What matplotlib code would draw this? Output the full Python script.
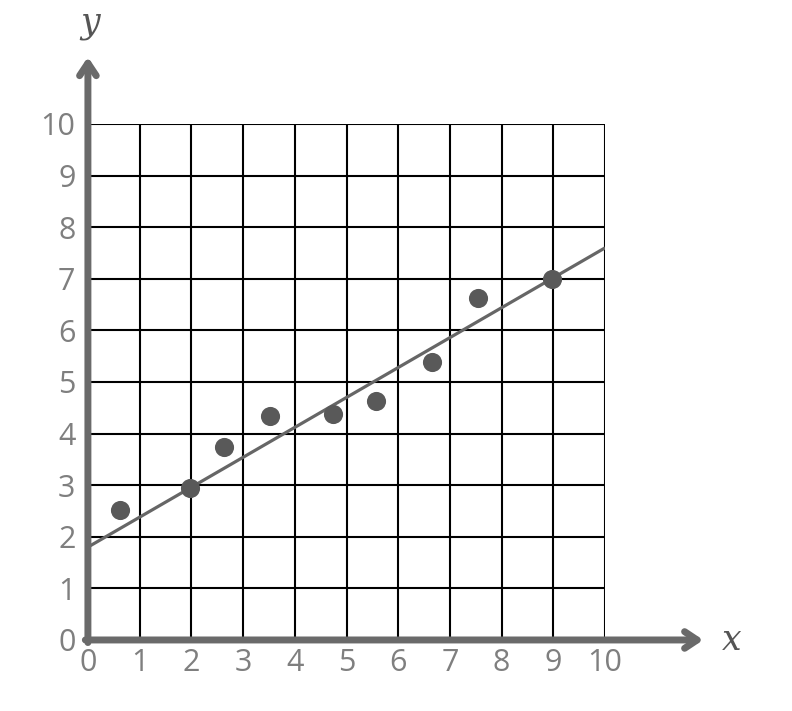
import matplotlib.pyplot as plt

# scatter data
x_vals = [0.62, 1.97, 2.63, 3.53, 4.73, 5.58, 6.66, 7.55, 8.98]
y_vals = [2.52, 2.95, 3.74, 4.34, 4.38, 4.63, 5.39, 6.63, 7.0]

# trend line end points
line_x = [0, 10]
line_y = [1.8, 7.6]

ticks = list(range(0, 11))
tick_labels = [str(t) for t in ticks]

fig = plt.figure(figsize=(7.92, 7.11), dpi=100)
ax = fig.add_axes([0.111, 0.0999, 0.653, 0.7257])

ax.set_xlim(0, 10)
ax.set_ylim(0, 10)

# grid
for t in ticks[1:]:
    ax.axvline(t, color='black', lw=1.5, zorder=1)
    ax.axhline(t, color='black', lw=1.5, zorder=1)

ax.plot(line_x, line_y, color='#666666', lw=2.3, zorder=3, solid_capstyle='butt')
ax.scatter(x_vals, y_vals, s=190, color='#595959', zorder=4, linewidths=0)

for s in ['top', 'right', 'left', 'bottom']:
    ax.spines[s].set_visible(False)

ax.set_xticks(ticks)
ax.set_yticks(ticks)
ax.set_xticklabels(tick_labels)
ax.set_yticklabels(tick_labels)
ax.tick_params(length=0, labelsize=22, colors='#7f7f7f')
for lab in ax.get_xticklabels() + ax.get_yticklabels():
    lab.set_family('Open Sans')
ax.tick_params(axis='x', pad=6)
ax.tick_params(axis='y', pad=9)

# axes with arrows
axis_col = '#6a6a6a'
ax.annotate('', xy=(11.9, 0), xytext=(-0.05, 0), annotation_clip=False,
            arrowprops=dict(arrowstyle='->,head_length=0.9,head_width=0.6',
                            color=axis_col, lw=5, shrinkA=0, shrinkB=0))
ax.annotate('', xy=(0, 11.3), xytext=(0, -0.05), annotation_clip=False,
            arrowprops=dict(arrowstyle='->,head_length=0.9,head_width=0.6',
                            color=axis_col, lw=5, shrinkA=0, shrinkB=0))

ax.text(12.45, 0.0, 'x', fontsize=25, style='italic', family='DejaVu Serif',
        color='#555555', ha='center', va='center', clip_on=False)
ax.text(0.05, 11.95, 'y', fontsize=25, style='italic', family='DejaVu Serif',
        color='#555555', ha='center', va='center', clip_on=False)

fig.savefig('out.png', dpi=100)
plt.close()
